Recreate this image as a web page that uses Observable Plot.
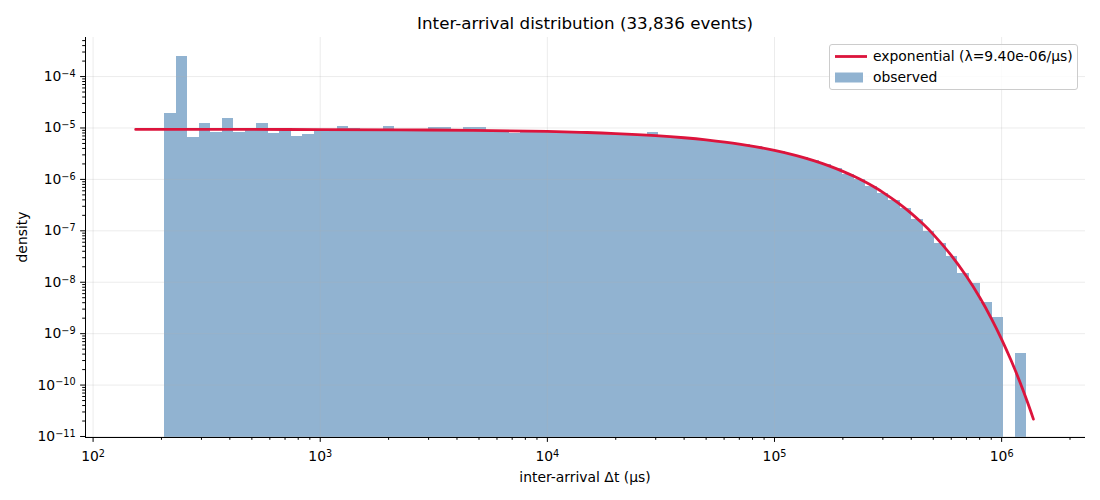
<!DOCTYPE html>
<html>
<head>
<meta charset="utf-8">
<script src="https://cdn.jsdelivr.net/npm/d3@7"></script>
<script src="https://cdn.jsdelivr.net/npm/@observablehq/plot@0.6"></script>
<style>
  html, body { margin: 0; padding: 0; background: #fff; }
  #wrap { position: relative; width: 1100px; height: 500px; font-family: "DejaVu Sans", sans-serif; color: #000; overflow: hidden; }
  #title { position: absolute; left: 85px; width: 1000px; top: 13px; text-align: center; font-size: 16.7px; line-height: 20px; }
  #xlabel { position: absolute; left: 85px; width: 1000px; top: 469px; text-align: center; font-size: 13.9px; line-height: 17px; }
  #ylabel { position: absolute; left: 22px; top: 237px; transform: translate(-50%, -50%) rotate(-90deg); font-size: 13.9px; line-height: 17px; white-space: nowrap; }
  #chart { position: absolute; left: 0; top: 35px; }
  #chart svg text { font-family: "DejaVu Sans", sans-serif !important; font-size: 13.9px !important; fill: #000; }
  #chart svg text tspan.sup { font-size: 9.7px; }
  #legend { position: absolute; left: 829px; top: 44px; width: 247px; height: 44px; border: 1px solid #cccccc; border-radius: 3px; background: rgba(255,255,255,0.8); font-size: 13.9px; }
  .lrow { position: absolute; left: 43px; white-space: nowrap; line-height: 17px; }
</style>
</head>
<body>
<div id="wrap">
  <div id="title">Inter-arrival distribution (33,836 events)</div>
  <div id="chart"></div>
  <div id="xlabel">inter-arrival Δt (μs)</div>
  <div id="ylabel">density</div>
  <div id="legend">
    <svg width="40" height="44" style="position:absolute;left:0;top:0">
      <line x1="5" x2="37" y1="11.5" y2="11.5" stroke="#dc143c" stroke-width="2.8"></line>
      <rect x="5" y="27.5" width="28" height="10" fill="#91b3d1"></rect>
    </svg>
    <div class="lrow" style="top:3px">exponential (λ=9.40e-06/μs)</div>
    <div class="lrow" style="top:24px">observed</div>
  </div>
</div>
<script>
// Histogram bin edges (µs), log-spaced
const binEdges = [206.5, 232.0, 260.7, 292.9, 329.1, 369.8, 415.5, 466.8, 524.5, 589.3,
  662.1, 743.9, 835.9, 939.2, 1055, 1186, 1332, 1497, 1682, 1890,
  2123, 2386, 2681, 3012, 3384, 3802, 4272, 4800, 5393, 6059,
  6808, 7649, 8594, 9656, 10850, 12190, 13700, 15390, 17290, 19430,
  21830, 24530, 27560, 30960, 34790, 39090, 43920, 49340, 55440, 62290,
  69980, 78630, 88350, 99260, 111500, 125300, 140800, 158200, 177700, 199700,
  224400, 252100, 283300, 318300, 357600, 401800, 451400, 507200, 569900, 640300,
  719400, 808300, 908200, 1020000, 1146000, 1288000];

// Observed density per bin (null = empty bin)
const observedDensity = [1.9e-5, 2.44e-4, 6.5e-6, 1.22e-5, 8.1e-6, 1.52e-5, 8.1e-6, 9.6e-6, 1.22e-5, 7.8e-6,
  9.5e-6, 6.8e-6, 7.4e-6, 8.5e-6, 9.3e-6, 1.06e-5, 9.6e-6, 9.4e-6, 9.5e-6, 1.06e-5,
  9.3e-6, 9.2e-6, 9.1e-6, 1.01e-5, 1.01e-5, 9.1e-6, 1.01e-5, 1.01e-5, 8.9e-6, 8.8e-6,
  7.9e-6, 8.5e-6, 8.5e-6, 8.5e-6, 8.4e-6, 8.3e-6, 8.2e-6, 8.05e-6, 7.9e-6, 7.75e-6,
  7.55e-6, 7.35e-6, 8.1e-6, 6.9e-6, 6.6e-6, 6.35e-6, 6.05e-6, 5.75e-6, 5.4e-6, 5.05e-6,
  4.68e-6, 4.29e-6, 3.9e-6, 3.5e-6, 3.1e-6, 2.7e-6, 2.31e-6, 1.94e-6, 1.66e-6, 1.27e-6,
  9.8e-7, 7.4e-7, 5.4e-7, 3.84e-7, 2.68e-7, 1.69e-7, 9.6e-8, 5.6e-8, 3.1e-8, 1.45e-8,
  9.3e-9, 4.1e-9, 2.1e-9, null, 4.2e-10];

// Fitted exponential curve points (Δt µs, density)
const curveX = [154, 500, 1000, 3000, 10000, 15000, 20000, 30000, 40000, 50000, 70000,
  100000, 125000, 150000, 175000, 200000, 225000, 250000, 275000, 300000, 350000,
  400000, 450000, 500000, 600000, 700000, 800000, 900000, 1000000, 1100000, 1200000, 1300000, 1380000];
const curveY = [9.386e-6, 9.356e-6, 9.312e-6, 9.139e-6, 8.557e-6, 8.163e-6, 7.79e-6, 7.09e-6, 6.458e-6, 5.875e-6, 4.87e-6,
  3.672e-6, 2.903e-6, 2.295e-6, 1.814e-6, 1.434e-6, 1.134e-6, 8.96e-7, 7.09e-7, 5.60e-7, 3.50e-7,
  2.19e-7, 1.367e-7, 8.54e-8, 3.34e-8, 1.303e-8, 5.09e-9, 1.99e-9, 7.77e-10, 3.03e-10, 1.186e-10, 4.63e-11, 2.18e-11];

// Axis ticks (labels as base^exponent)
const xMajorTicks = [1e2, 1e3, 1e4, 1e5, 1e6];
const xTickLabels = ["10^2", "10^3", "10^4", "10^5", "10^6"];
const yMajorTicks = [1e-11, 1e-10, 1e-9, 1e-8, 1e-7, 1e-6, 1e-5, 1e-4];
const yTickLabels = ["10^−11", "10^−10", "10^−9", "10^−8", "10^−7", "10^−6", "10^−5", "10^−4"];

const xDomain = [92.6, 2.34e6];
const yDomain = [9.56e-12, 5.75e-4];

const bins = observedDensity.map((d, i) => ({x1: binEdges[i], x2: binEdges[i + 1], y: d}))
  .filter(b => b.y != null);
const curve = curveX.map((x, i) => ({x, y: curveY[i]}));

function minorTicks(lo, hi) {
  const out = [];
  for (let e = Math.floor(Math.log10(lo)); e <= Math.ceil(Math.log10(hi)); e++) {
    for (let k = 2; k <= 9; k++) {
      const v = k * Math.pow(10, e);
      if (v >= lo && v <= hi) out.push(v);
    }
  }
  return out;
}
const xMinor = minorTicks(xDomain[0], xDomain[1]);
const yMinor = minorTicks(yDomain[0], yDomain[1]);
const sameLog = (a, b) => Math.abs(Math.log10(a) - Math.log10(b)) < 1e-6;

const chart = Plot.plot({
  width: 1100,
  height: 465,
  marginTop: 2,
  marginBottom: 63,
  marginLeft: 85,
  marginRight: 15,
  style: {fontFamily: "DejaVu Sans", fontSize: "13.9px", color: "#000", background: "#fff"},
  x: {type: "log", domain: xDomain},
  y: {type: "log", domain: yDomain},
  marks: [
    Plot.rect(bins, {x1: "x1", x2: "x2", y1: yDomain[0], y2: "y", fill: "#91b3d1", shapeRendering: "crispEdges"}),
    Plot.gridX(xMajorTicks, {stroke: "#b0b0b0", strokeOpacity: 0.3, strokeWidth: 0.8}),
    Plot.gridY(yMajorTicks, {stroke: "#b0b0b0", strokeOpacity: 0.3, strokeWidth: 0.8}),
    Plot.line(curve, {x: "x", y: "y", stroke: "#dc143c", strokeWidth: 2.8, curve: "catmull-rom"}),
    Plot.ruleX([xDomain[0]], {stroke: "#000", strokeWidth: 1}),
    Plot.ruleY([yDomain[0]], {stroke: "#000", strokeWidth: 1}),
    Plot.axisX({ticks: xMajorTicks, tickFormat: (d) => xTickLabels[xMajorTicks.findIndex(v => sameLog(v, d))], tickSize: 4.9, tickPadding: 9, label: null}),
    Plot.axisX({ticks: xMinor, tickFormat: () => "", tickSize: 2.8, label: null}),
    Plot.axisY({ticks: yMajorTicks, tickFormat: (d) => yTickLabels[yMajorTicks.findIndex(v => sameLog(v, d))], tickSize: 4.9, tickPadding: 5, label: null}),
    Plot.axisY({ticks: yMinor, tickFormat: () => "", tickSize: 2.8, label: null})
  ]
});
document.getElementById("chart").appendChild(chart);

// Render "base^exp" tick labels as base with a superscript exponent
const NS = "http://www.w3.org/2000/svg";
chart.querySelectorAll("text").forEach(t => {
  const s = t.textContent;
  if (!s || s.indexOf("^") < 0) return;
  const [base, exp] = s.split("^");
  while (t.firstChild) t.removeChild(t.firstChild);
  t.appendChild(document.createTextNode(base));
  const sup = document.createElementNS(NS, "tspan");
  sup.setAttribute("class", "sup");
  sup.setAttribute("dy", "-0.42em");
  sup.textContent = exp;
  t.appendChild(sup);
});
</script>
</body>
</html>
